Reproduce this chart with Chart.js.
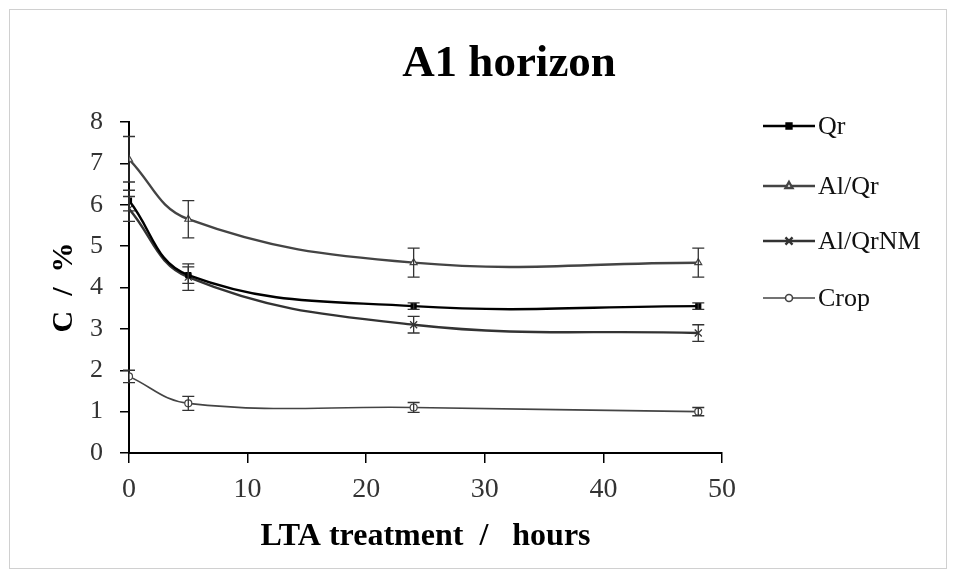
<!DOCTYPE html>
<html>
<head>
<meta charset="utf-8">
<script src="https://cdn.jsdelivr.net/npm/chart.js@4.4.1/dist/chart.umd.min.js"></script>
<style>
  html, body { margin: 0; padding: 0; background: #fff; }
  #wrap { position: relative; width: 957px; height: 580px; }
  #frame { position: absolute; left: 9px; top: 9px; width: 938px; height: 560px; border: 1px solid #d0d0d0; box-sizing: border-box; }
  canvas { position: absolute; left: 0; top: 0; }
</style>
</head>
<body>
<div id="wrap">
  <div id="frame"></div>
  <canvas id="c" width="957" height="580"></canvas>
</div>
<script>
// A1 horizon - C content vs LTA treatment time

const hours = [0, 5, 24, 48];
const seriesNames = ['Qr', 'Al/Qr', 'Al/QrNM', 'Crop'];

const qr = [6.1, 4.3, 3.55, 3.55];
const qrErr = [0.25, 0.2, 0.08, 0.08];

const alQr = [7.1, 5.65, 4.6, 4.6];
const alQrErr = [0.55, 0.45, 0.35, 0.35];

const alQrNM = [5.9, 4.25, 3.1, 2.9];
const alQrNMErr = [0.3, 0.32, 0.2, 0.2];

const crop = [1.85, 1.2, 1.1, 1.0];
const cropErr = [0.15, 0.17, 0.12, 0.1];

const xTicks = [0, 10, 20, 30, 40, 50];
const yTicks = [0, 1, 2, 3, 4, 5, 6, 7, 8];

const SERIF = '"Liberation Serif", "DejaVu Serif", serif';

const styles = [
  { color: '#000', width: 2.4, point: 'rect', radius: 3.5, fill: '#000' },
  { color: '#444', width: 2.4, point: 'triangle', radius: 4, fill: '#fff' },
  { color: '#333', width: 2.4, point: 'crossRot', radius: 5, fill: '#fff' },
  { color: '#444', width: 1.6, point: 'circle', radius: 3.5, fill: '#fff' },
];

const values = [qr, alQr, alQrNM, crop];
const errors = [qrErr, alQrErr, alQrNMErr, cropErr];

const datasets = seriesNames.map((name, i) => ({
  label: name,
  data: hours.map((h, j) => ({ x: h, y: values[i][j] })),
  errors: errors[i],
  borderColor: styles[i].color,
  borderWidth: styles[i].width,
  pointStyle: styles[i].point,
  pointRadius: styles[i].radius,
  pointBorderColor: styles[i].color,
  pointBackgroundColor: styles[i].fill,
  pointBorderWidth: 1.2,
  tension: 0.4,
  fill: false,
}));

// vertical error bars with caps
const errorBars = {
  id: 'errorBars',
  afterDatasetsDraw(chart) {
    const ctx = chart.ctx;
    const xs = chart.scales.x, ys = chart.scales.y;
    chart.data.datasets.forEach(ds => {
      ctx.save();
      ctx.strokeStyle = '#333';
      ctx.lineWidth = 1.3;
      ds.data.forEach((p, j) => {
        const e = ds.errors[j];
        const px = xs.getPixelForValue(p.x);
        const top = ys.getPixelForValue(p.y + e);
        const bot = ys.getPixelForValue(p.y - e);
        ctx.beginPath();
        ctx.moveTo(px, top); ctx.lineTo(px, bot);
        ctx.moveTo(px - 6, top); ctx.lineTo(px + 6, top);
        ctx.moveTo(px - 6, bot); ctx.lineTo(px + 6, bot);
        ctx.stroke();
      });
      ctx.restore();
    });
  }
};

// title + legend drawn beside the plot
const sideText = {
  id: 'sideText',
  afterDraw(chart) {
    const ctx = chart.ctx;
    ctx.save();
    ctx.fillStyle = '#000';
    ctx.font = 'bold 45px ' + SERIF;
    ctx.textAlign = 'center';
    ctx.textBaseline = 'middle';
    ctx.fillText('A1 horizon', 509, 64);

    const legendY = [126, 186, 241, 298];
    chart.data.datasets.forEach((ds, i) => {
      const y = legendY[i];
      const s = styles[i];
      ctx.strokeStyle = s.color;
      ctx.lineWidth = s.width;
      ctx.beginPath();
      ctx.moveTo(763, y); ctx.lineTo(815, y);
      ctx.stroke();
      ctx.fillStyle = s.fill;
      ctx.strokeStyle = s.color;
      Chart.helpers.drawPoint(ctx, {
        pointStyle: s.point, radius: s.radius, borderWidth: 1.2
      }, 789, y);
      ctx.fillStyle = '#111';
      ctx.font = '26px ' + SERIF;
      ctx.textAlign = 'left';
      ctx.fillText(ds.label, 818, y + 1);
    });
    ctx.restore();
  }
};

new Chart(document.getElementById('c'), {
  type: 'line',
  data: { datasets },
  options: {
    responsive: false,
    animation: false,
    layout: { padding: { left: 30, right: 235, top: 122, bottom: 20 } },
    plugins: { legend: { display: false }, title: { display: false }, tooltip: { enabled: false } },
    scales: {
      x: {
        type: 'linear', min: 0, max: 50,
        afterBuildTicks: s => { s.ticks = xTicks.map(v => ({ value: v })); },
        afterFit: s => { s.height = 107; },
        grid: { drawOnChartArea: false, color: '#000', tickLength: 10, lineWidth: 1.5 },
        border: { color: '#000', width: 2 },
        ticks: { color: '#333', font: { family: SERIF, size: 28 }, padding: 10, maxRotation: 0 },
        title: { display: true, text: 'LTA treatment  /   hours', color: '#000',
                 font: { family: SERIF, size: 32, weight: 'bold' }, padding: { top: 0, bottom: 4 } }
      },
      y: {
        type: 'linear', min: 0, max: 8,
        afterBuildTicks: s => { s.ticks = yTicks.map(v => ({ value: v })); },
        afterFit: s => { s.width = 99; },
        grid: { drawOnChartArea: false, color: '#000', tickLength: 9, lineWidth: 1.5 },
        border: { color: '#000', width: 2 },
        ticks: { color: '#333', font: { family: SERIF, size: 26 }, padding: 17 },
        title: { display: true, text: 'C  /  %', color: '#000',
                 font: { family: SERIF, size: 30, weight: 'bold' }, padding: { top: 16, bottom: 0 } }
      }
    }
  },
  plugins: [errorBars, sideText]
});
</script>
</body>
</html>
